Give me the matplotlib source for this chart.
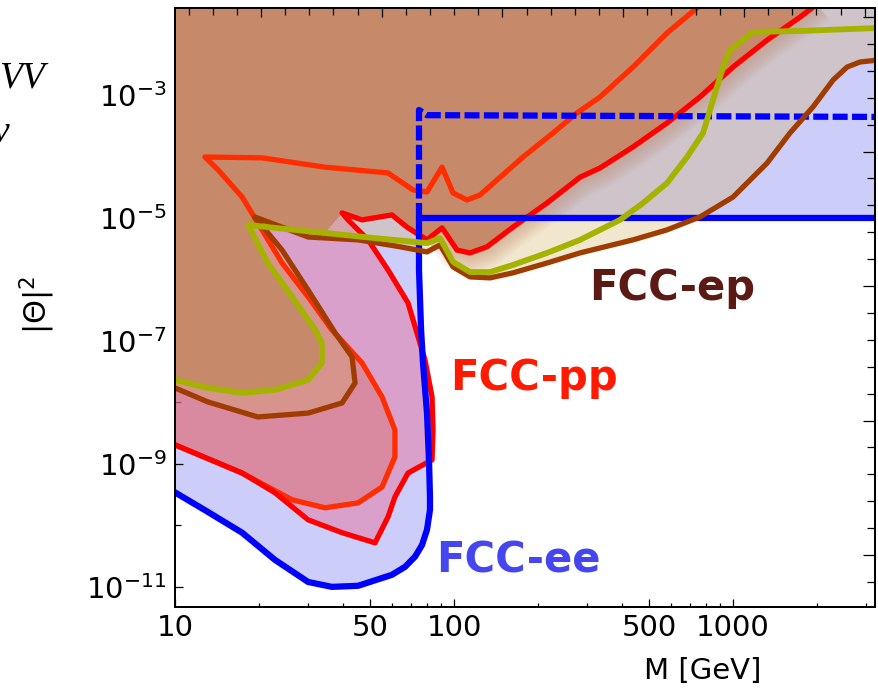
import numpy as np
import matplotlib
matplotlib.use('Agg')
import matplotlib.pyplot as plt
from matplotlib.ticker import MultipleLocator, NullFormatter, LogFormatterMathtext

plt.rcParams['font.family'] = 'DejaVu Sans'
plt.rcParams['mathtext.fontset'] = 'dejavusans'

########################################
# sensitivity contours, M [GeV] vs |Theta|^2

# FCC-ee (solid) and its extension above W mass (dashed)
ee_mass = [10, 13.1, 17.4, 22.8, 30.0, 36.5, 45.3, 59.9, 66.7, 72.5, 76.8, 80.0, 82.0,
           82.0, 81.4, 80.0, 77.4, 76.2, 74.9, 74.9, 3300]
ee_theta2 = [3.44e-10, 1.66e-10, 7.6e-11, 2.75e-11, 1.2e-11, 1.0e-11, 1.04e-11, 1.57e-11,
             2.11e-11, 3.1e-11, 4.8e-11, 8.5e-11, 1.79e-10, 2.9e-10, 1.04e-9, 6.7e-9,
             4.4e-8, 1.51e-7, 1.43e-6, 1.0e-5, 1.0e-5]
ee_dash_mass = [74.9, 74.9, 80.0, 3300]
ee_dash_theta2 = [1.0e-5, 5.7e-4, 4.7e-4, 4.4e-4]

# FCC-pp, outer contour (red)
pp_mass = [10, 17.4, 22.8, 30.0, 39.7, 52.1, 58.0, 61.4, 68.4, 83.4, 84.1, 83.4, 78.7,
           68.4, 58.0, 49.2, 41.7, 39.7, 46.8, 59.9, 67.8, 80.0, 90.6, 102.5, 114.1,
           131.3, 162.7, 215.4, 282.9, 333.7, 438.1, 580, 761.6, 1000, 1324, 1739, 2000]
pp_theta2 = [2.04e-9, 7.1e-10, 3.4e-10, 1.23e-10, 7.6e-11, 5.2e-11, 1.37e-10, 2.9e-10,
             7.1e-10, 1.16e-9, 3.57e-9, 1.23e-8, 4.9e-8, 4.15e-7, 1.43e-6, 4.4e-6,
             9.3e-6, 1.21e-5, 9.3e-6, 1.12e-5, 7.1e-6, 4.4e-6, 6.9e-6, 3.0e-6, 2.7e-6,
             3.4e-6, 7.1e-6, 1.75e-5, 4.6e-5, 6.5e-5, 1.43e-4, 3.5e-4, 9.3e-4, 2.85e-3,
             7.8e-3, 1.85e-2, 3.0e-2]

# FCC-pp, inner contour (orange-red)
pp2_mass = [10, 17.4, 26.3, 34.5, 45.3, 55.2, 61.4, 61.4, 55.2, 46.8, 36.5, 30.0, 24.2,
            20.5, 17.4, 14.3, 12.8, 20.5, 34.5, 58.0, 71.3, 80.0, 90.6, 99.2, 111.3,
            124.0, 142.6, 176.7, 226.3, 276.0, 333.7, 438.1, 580, 743, 800]
pp2_theta2 = [2.04e-9, 7.1e-10, 2.6e-10, 1.93e-10, 2.32e-10, 4.2e-10, 1.30e-9, 3.57e-9,
              1.23e-8, 4.4e-8, 1.51e-7, 5.2e-7, 1.85e-6, 6.4e-6, 2.19e-5, 6.0e-5, 9.8e-5,
              9.5e-5, 6.7e-5, 5.4e-5, 2.85e-5, 2.65e-5, 6.7e-5, 2.55e-5, 1.96e-5, 2.37e-5,
              4.15e-5, 9.8e-5, 2.41e-4, 5.1e-4, 9.3e-4, 2.85e-3, 1.02e-2, 2.6e-2, 3.6e-2]

# FCC-ep (dark brown)
ep_mass = [10, 13.1, 19.8, 30.0, 39.7, 44.2, 43.1, 37.7, 30.0, 24.2, 19.3, 30.0, 45.3,
           64.0, 80.0, 89.1, 99.2, 114.1, 134.6, 162.7, 215.4, 282.9, 333.7, 438.1, 580,
           761.6, 1000, 1324, 1600, 1935, 2283, 2563, 2852, 3300]
ep_theta2 = [1.72e-8, 1.02e-8, 5.8e-9, 6.7e-9, 9.8e-9, 2.07e-8, 5.5e-8, 1.30e-7, 6.7e-7,
             3.0e-6, 1.04e-5, 4.9e-6, 4.4e-6, 3.4e-6, 2.8e-6, 3.64e-6, 1.6e-6, 1.10e-6,
             1.06e-6, 1.28e-6, 1.85e-6, 2.7e-6, 3.25e-6, 4.4e-6, 6.4e-6, 1.04e-5, 2.19e-5,
             7.8e-5, 2.41e-4, 6.4e-4, 1.75e-3, 2.85e-3, 3.44e-3, 3.7e-3]

# olive contour, also the lower edge of the present bounds on the left
bound_mass = [10, 13.1, 17.4, 22.8, 30.0, 33.6, 33.6, 31.8, 26.3, 21.5, 18.3, 22.8, 34.5,
              52.1, 80.0, 89.1, 99.2, 114.1, 134.6, 162.7, 215.4, 282.9, 333.7, 393.6,
              475.9, 580, 684.1, 780.7, 847.8, 920.9, 975.5, 1180, 1739, 3300]
bound_theta2 = [2.32e-8, 1.72e-8, 1.43e-8, 1.6e-8, 2.32e-8, 4.4e-8, 9.3e-8, 1.51e-7,
                5.2e-7, 1.85e-6, 7.7e-6, 6.9e-6, 5.7e-6, 4.7e-6, 3.9e-6, 4.7e-6, 1.93e-6,
                1.32e-6, 1.32e-6, 1.72e-6, 2.7e-6, 4.4e-6, 6.4e-6, 9.3e-6, 1.75e-5, 3.7e-5,
                9.8e-5, 2.41e-4, 8.3e-4, 2.85e-3, 5.4e-3, 1.06e-2, 1.10e-2, 1.23e-2]

mass_ticks = [10, 50, 100, 500, 1000]
mass_tick_labels = ['10', '50', '100', '500', '1000']
theta_ticks = [1e-11, 1e-9, 1e-7, 1e-5, 1e-3]
theta_minor = [1e-10, 1e-8, 1e-6, 1e-4, 1e-2]

xlo, xhi = 10, 3228
ylo, yhi = 4.7e-12, 2.6e-2
# corners outside the frame used to close the shaded regions
X0, X1, Y1 = xlo / 2, xhi * 2, yhi * 10

########################################
# FIGURE

fig = plt.figure(figsize=(8.79, 6.95), dpi=100)
ax = fig.add_axes([0.1991, 0.1266, 0.7964, 0.8619])
ax.set_xscale('log')
ax.set_yscale('log')
ax.set_xlim(xlo, xhi)
ax.set_ylim(ylo, yhi)

# shaded regions, back to front
ax.fill(np.r_[ee_mass, X1, X0, X0], np.r_[ee_theta2, Y1, Y1, ee_theta2[0]],
        color='#CDCDF9', lw=0, zorder=1)
ax.fill(np.r_[pp_mass, X0, X0], np.r_[pp_theta2, Y1, pp_theta2[0]],
        color='#E66E96', alpha=0.47, lw=0, zorder=2)
ax.fill(np.r_[pp2_mass, X0, X0], np.r_[pp2_theta2, Y1, pp2_theta2[0]],
        color='#DC6E6E', alpha=0.45, lw=0, zorder=2.1)
ax.fill(np.r_[ep_mass, X1, X1, X0, X0], np.r_[ep_theta2, ep_theta2[-1], Y1, Y1, ep_theta2[0]],
        color='#D2B060', alpha=0.3, lw=0, zorder=2.2)
ax.fill(np.r_[X0, bound_mass[:13], pp_mass[17:], X0],
        np.r_[bound_theta2[0], bound_theta2[:13], pp_theta2[17:], Y1],
        color='#C6896A', lw=0, zorder=3)
# soft fringe of the present bounds below the red line
for w in np.arange(6, 32, 2):
    ax.plot(pp_mass[21:], pp_theta2[21:], color='#C6896A', lw=w, alpha=0.045,
            solid_capstyle='butt', solid_joinstyle='round', zorder=3.1)

# contour lines
ax.plot(pp2_mass, pp2_theta2, color='#FF2D00', lw=3.8, solid_joinstyle='round', zorder=5)
ax.plot(pp_mass, pp_theta2, color='#FF0000', lw=3.8, solid_joinstyle='round', zorder=5.5)
ax.plot(ee_mass, ee_theta2, color='#0000FF', lw=4.5, solid_joinstyle='round', zorder=6)
ax.plot(ee_dash_mass, ee_dash_theta2, color='#0000FF', lw=4.5, ls=(0, (2.4, 0.7)),
        dash_capstyle='butt', zorder=6)
ax.plot(ep_mass, ep_theta2, color='#A03C00', lw=3.8, solid_joinstyle='round', zorder=7)
ax.plot(bound_mass, bound_theta2, color='#A5B300', lw=4.2, solid_joinstyle='round', zorder=8)

# collider labels
label_kw = dict(transform=ax.transAxes, ha='center', va='baseline', fontsize=30,
                fontweight='bold', zorder=10)
ax.text(0.7107, 0.5125, 'FCC-ep', color='#5C1A14', **label_kw)
ax.text(0.5129, 0.3623, 'FCC-pp', color='#FF1A00', **label_kw)
ax.text(0.4907, 0.0568, 'FCC-ee', color='#4646F0', **label_kw)

# axes, ticks
ax.set_xticks(mass_ticks, labels=mass_tick_labels)
ax.set_xticks([m * d for d in (10, 100, 1000) for m in range(1, 10)
               if xlo < m * d < xhi and m * d not in mass_ticks], minor=True)
ax.xaxis.set_minor_formatter(NullFormatter())
ax.set_yticks(theta_ticks)
ax.set_yticks(theta_minor, minor=True)
ax.yaxis.set_major_formatter(LogFormatterMathtext())
ax.yaxis.set_minor_formatter(NullFormatter())

ax.tick_params(which='both', direction='in', color='black', width=0.9)
ax.tick_params(axis='x', which='major', length=5.5, pad=5, labelsize=21)
ax.tick_params(axis='x', which='minor', length=3)
ax.tick_params(axis='y', which='major', length=6, pad=6, labelsize=21)
ax.tick_params(axis='y', which='minor', length=4)
for s in ax.spines.values():
    s.set_linewidth(1.2)

ax.set_xlabel('M [GeV]', fontsize=21, va='baseline')
ax.xaxis.set_label_coords(0.754, -0.12)
ax.set_ylabel(r'$|\Theta|^2$', fontsize=22)
ax.yaxis.set_label_coords(-0.168, 0.504)

# plain linear frame ticks on top and right
axt = ax.twiny()
axt.set_xlim(-3.56, 25.43)
axt.xaxis.set_major_locator(MultipleLocator(5))
axt.xaxis.set_minor_locator(MultipleLocator(1))
axt.tick_params(axis='x', which='both', direction='in', labeltop=False, width=0.9)
axt.tick_params(axis='x', which='major', length=6.5)
axt.tick_params(axis='x', which='minor', length=5)

axr = ax.twinx()
axr.set_ylim(-1.933, 20.335)
axr.yaxis.set_major_locator(MultipleLocator(5))
axr.yaxis.set_minor_locator(MultipleLocator(1))
axr.tick_params(axis='y', which='both', direction='in', labelright=False, width=0.9)
axr.tick_params(axis='y', which='major', length=8.5)
axr.tick_params(axis='y', which='minor', length=5.5)
for a in (axt, axr):
    for s in a.spines.values():
        s.set_linewidth(1.2)

# pieces of neighbouring text at the left margin
fig.text(45 / 879, 0.8748, 'VV', ha='right', va='baseline', fontsize=27,
         family='Liberation Serif', style='italic')
fig.text(9 / 879, 0.7957, 'ν', ha='right', va='baseline', fontsize=27,
         family='Liberation Serif', style='italic')

fig.savefig('out.png', dpi=100)
